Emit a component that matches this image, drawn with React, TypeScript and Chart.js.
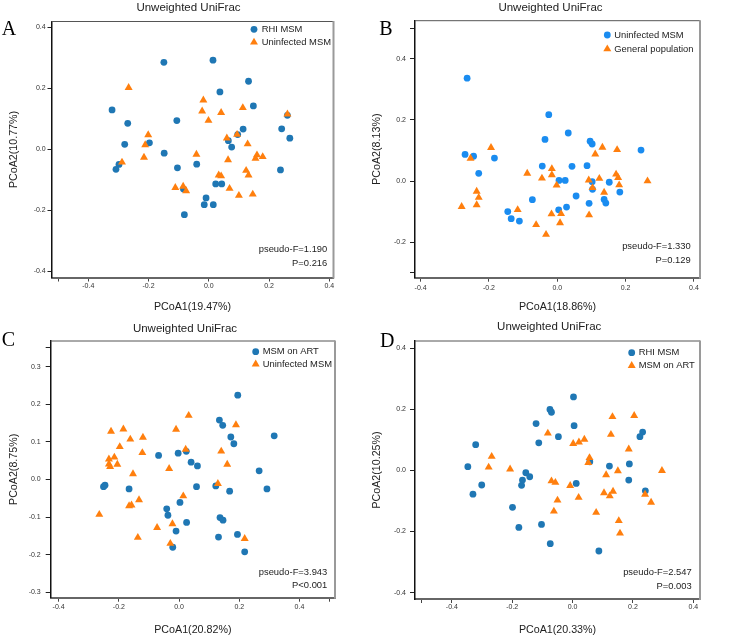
import React, { useEffect, useRef } from 'react';
import { Chart, registerables } from 'chart.js';
Chart.register(...registerables);

type Pt = [number, number];

// ---------- Panel A ----------
const aRhiMsm: Pt[] = [[-0.149,0.285],[0.014,0.292],[0.132,0.223],[0.037,0.188],[0.148,0.142],[-0.321,0.129],[-0.106,0.094],[-0.269,0.085],[0.242,0.067],[0.261,0.111],[0.114,0.066],[0.096,0.048],[0.269,0.036],[-0.279,0.016],[-0.197,0.021],[0.065,0.028],[0.076,0.007],[-0.148,-0.013],[-0.298,-0.050],[-0.308,-0.066],[-0.104,-0.061],[-0.040,-0.049],[0.023,-0.114],[0.043,-0.114],[0.238,-0.068],[-0.009,-0.160],[-0.015,-0.182],[0.015,-0.182],[-0.081,-0.215],[-0.084,-0.131]];
const aUninfectedMsm: Pt[] = [[-0.266,0.202],[-0.018,0.161],[-0.022,0.125],[0.041,0.120],[0.113,0.136],[-0.001,0.094],[0.261,0.115],[-0.201,0.047],[-0.211,0.014],[0.060,0.036],[0.094,0.048],[0.129,0.017],[-0.215,-0.027],[-0.288,-0.043],[-0.041,-0.017],[0.064,-0.035],[0.160,-0.019],[0.179,-0.025],[0.155,-0.030],[0.033,-0.085],[0.041,-0.088],[0.124,-0.070],[0.132,-0.085],[-0.111,-0.126],[-0.085,-0.122],[-0.075,-0.137],[0.069,-0.129],[0.100,-0.152],[0.146,-0.148]];
const aXTicks = [-0.5, -0.4, -0.2, 0, 0.2, 0.4];
const aYTicks = [-0.4, -0.2, 0, 0.2, 0.4];
const aStats = ['pseudo-F=1.190', 'P=0.216'];

// ---------- Panel B ----------
const bUninfectedMsm: Pt[] = [[-0.264,0.336],[-0.025,0.217],[0.032,0.157],[-0.036,0.136],[0.096,0.130],[0.102,0.121],[0.245,0.101],[-0.270,0.087],[-0.245,0.081],[-0.184,0.075],[-0.230,0.025],[-0.044,0.049],[0.043,0.048],[0.087,0.050],[0.005,0.002],[0.023,0.002],[0.102,-0.002],[0.152,-0.004],[0.103,-0.027],[0.183,-0.036],[0.055,-0.049],[-0.073,-0.061],[0.093,-0.073],[0.137,-0.060],[0.142,-0.072],[0.027,-0.085],[0.004,-0.094],[-0.145,-0.100],[-0.135,-0.123],[-0.111,-0.131]];
const bGeneralPopulation: Pt[] = [[-0.194,0.109],[0.132,0.110],[0.175,0.102],[0.111,0.088],[-0.254,0.074],[-0.088,0.025],[-0.016,0.040],[-0.016,0.020],[-0.045,0.009],[0.172,0.022],[0.178,0.011],[0.123,0.008],[0.092,0.003],[0.181,-0.013],[0.264,0.000],[-0.002,-0.014],[0.103,-0.022],[0.137,-0.037],[-0.236,-0.034],[-0.230,-0.054],[-0.236,-0.078],[-0.280,-0.084],[-0.116,-0.094],[-0.017,-0.108],[0.011,-0.107],[0.008,-0.137],[-0.062,-0.143],[-0.033,-0.175],[0.093,-0.111]];
const bXTicks = [-0.4, -0.2, 0, 0.2, 0.4];
const bYTicks = [-0.3, -0.2, 0, 0.2, 0.4, 0.5];
const bStats = ['pseudo-F=1.330', 'P=0.129'];

// ---------- Panel C ----------
const cMsmOnArt: Pt[] = [[0.195,0.224],[0.134,0.158],[0.145,0.144],[0.316,0.116],[0.172,0.113],[0.182,0.095],[-0.068,0.064],[-0.003,0.070],[0.024,0.075],[0.040,0.046],[0.061,0.036],[0.266,0.023],[-0.251,-0.019],[-0.246,-0.015],[-0.166,-0.025],[0.058,-0.019],[0.122,-0.017],[0.168,-0.031],[0.292,-0.025],[0.003,-0.061],[-0.041,-0.078],[-0.037,-0.095],[0.136,-0.101],[0.146,-0.108],[0.025,-0.114],[-0.010,-0.137],[0.194,-0.146],[0.131,-0.153],[-0.021,-0.180],[0.218,-0.192]];
const cUninfectedMsm: Pt[] = [[0.032,0.170],[-0.185,0.134],[-0.010,0.133],[-0.226,0.128],[0.189,0.145],[-0.162,0.107],[-0.120,0.112],[-0.197,0.087],[0.022,0.080],[-0.122,0.071],[0.140,0.075],[-0.215,0.059],[-0.233,0.054],[-0.033,0.029],[0.160,0.040],[-0.233,0.041],[-0.205,0.040],[-0.229,0.034],[-0.153,0.015],[0.129,-0.011],[0.014,-0.044],[-0.133,-0.054],[-0.158,-0.068],[-0.166,-0.070],[-0.265,-0.093],[-0.022,-0.118],[-0.073,-0.128],[-0.137,-0.154],[-0.029,-0.170],[0.218,-0.157]];
const cXTicks = [-0.4, -0.2, 0, 0.2, 0.4, 0.5];
const cYTicks = [-0.3, -0.2, -0.1, 0, 0.1, 0.2, 0.3, 0.35];
const cStats = ['pseudo-F=3.943', 'P<0.001'];

// ---------- Panel D ----------
const dRhiMsm: Pt[] = [[0.003,0.240],[-0.075,0.199],[-0.070,0.190],[-0.121,0.153],[0.005,0.146],[-0.047,0.110],[-0.112,0.090],[-0.321,0.084],[0.232,0.125],[0.223,0.110],[0.122,0.014],[0.188,0.021],[-0.347,0.012],[0.057,0.028],[-0.155,-0.008],[-0.142,-0.021],[-0.166,-0.032],[-0.169,-0.049],[-0.301,-0.048],[-0.330,-0.078],[0.012,-0.043],[0.186,-0.032],[0.241,-0.067],[-0.199,-0.121],[-0.178,-0.187],[-0.103,-0.177],[-0.074,-0.240],[0.087,-0.264]];
const dMsmOnArt: Pt[] = [[0.132,0.175],[0.204,0.179],[-0.082,0.121],[0.127,0.117],[0.002,0.087],[0.021,0.092],[0.039,0.101],[0.186,0.069],[-0.268,0.045],[0.056,0.041],[0.052,0.025],[-0.278,0.010],[-0.207,0.004],[0.296,-0.001],[0.150,-0.002],[-0.070,-0.035],[-0.057,-0.040],[-0.008,-0.050],[0.111,-0.015],[0.104,-0.074],[0.134,-0.069],[0.123,-0.084],[0.020,-0.089],[-0.050,-0.098],[-0.062,-0.134],[0.078,-0.138],[0.240,-0.079],[0.260,-0.105],[0.153,-0.165],[0.157,-0.206]];
const dXTicks = [-0.5, -0.4, -0.2, 0, 0.2, 0.4];
const dYTicks = [-0.4, -0.2, 0, 0.2, 0.4];
const dStats = ['pseudo-F=2.547', 'P=0.003'];

const SANS = "'Liberation Sans', Arial, Helvetica, sans-serif";
const SERIF = "'Liberation Serif', 'Times New Roman', serif";
const BLUE = '#1f77b4';
const BLUE_B = '#1a8cf0';
const ORANGE = '#ff7f0e';
const TITLE_SIZE = 11.5;
const AXIS_TITLE_SIZE = 10.7;
const TICK_SIZE = 7;
const LEGEND_SIZE = 9.4;

interface Series { label: string; data: Pt[]; color: string; style: 'circle' | 'triangle'; }
interface PanelCfg {
  letter: string; title: string; xTitle: string; yTitle: string;
  series: Series[]; xTicks: number[]; yTicks: number[]; xBlank: number[]; yBlank: number[];
  xMin: number; xMax: number; yMin: number; yMax: number; stats: string[];
  cx: number; cy: number; W: number; H: number; L: number; R: number; T: number; B: number;
  titleCx: number; titleCy: number; yTitleCx: number; xTitleCy: number;
  xTickPad: number; yTickLen: number; yTickPad: number;
  legX: number; legY: number; legGap: number; legTextX: number;
  statX: number; statY1: number; statY2: number; letterX: number; letterY: number;
}

const panels: PanelCfg[] = [
  {
    letter: 'A', title: 'Unweighted UniFrac', xTitle: 'PCoA1(19.47%)', yTitle: 'PCoA2(10.77%)',
    series: [
      { label: 'RHI MSM', data: aRhiMsm, color: BLUE, style: 'circle' },
      { label: 'Uninfected MSM', data: aUninfectedMsm, color: ORANGE, style: 'triangle' },
    ],
    xTicks: aXTicks, yTicks: aYTicks, xBlank: [-0.5], yBlank: [],
    xMin: -0.522, xMax: 0.414, yMin: -0.421, yMax: 0.419, stats: aStats,
    cx: 0, cy: 0, W: 380, H: 318, L: 51.5, R: 333.5, T: 21.5, B: 277.5,
    titleCx: 188.5, titleCy: 8.3, yTitleCx: 14.5, xTitleCy: 307,
    xTickPad: 0, yTickLen: 4, yTickPad: 1.8,
    legX: 254, legY: 29.3, legGap: 13, legTextX: 261.7,
    statX: 327.3, statY1: 249, statY2: 263.3, letterX: 1.7, letterY: 35,
  },
  {
    letter: 'B', title: 'Unweighted UniFrac', xTitle: 'PCoA1(18.86%)', yTitle: 'PCoA2(8.13%)',
    series: [
      { label: 'Uninfected MSM', data: bUninfectedMsm, color: BLUE_B, style: 'circle' },
      { label: 'General population', data: bGeneralPopulation, color: ORANGE, style: 'triangle' },
    ],
    xTicks: bXTicks, yTicks: bYTicks, xBlank: [], yBlank: [0.5, -0.3],
    xMin: -0.4165, xMax: 0.4176, yMin: -0.316, yMax: 0.524, stats: bStats,
    cx: 370, cy: 0, W: 374, H: 318, L: 415, R: 700, T: 20.7, B: 277.7,
    titleCx: 550.5, titleCy: 8.3, yTitleCx: 377.5, xTitleCy: 307,
    xTickPad: 1.8, yTickLen: 5, yTickPad: 4,
    legX: 607.3, legY: 35, legGap: 14, legTextX: 614.3,
    statX: 690.7, statY1: 246, statY2: 260, letterX: 379.3, letterY: 35,
  },
  {
    letter: 'C', title: 'Unweighted UniFrac', xTitle: 'PCoA1(20.82%)', yTitle: 'PCoA2(8.75%)',
    series: [
      { label: 'MSM on ART', data: cMsmOnArt, color: BLUE, style: 'circle' },
      { label: 'Uninfected MSM', data: cUninfectedMsm, color: ORANGE, style: 'triangle' },
    ],
    xTicks: cXTicks, yTicks: cYTicks, xBlank: [0.5], yBlank: [0.35],
    xMin: -0.4264, xMax: 0.518, yMin: -0.314, yMax: 0.368, stats: cStats,
    cx: 0, cy: 310, W: 374, H: 327, L: 50.7, R: 335, T: 341, B: 597.7,
    titleCx: 185, titleCy: 329.3, yTitleCx: 14, xTitleCy: 630,
    xTickPad: 0.8, yTickLen: 5, yTickPad: 5,
    legX: 255.7, legY: 351.7, legGap: 12.5, legTextX: 262.7,
    statX: 327.3, statY1: 572.7, statY2: 585, letterX: 1.7, letterY: 346,
  },
  {
    letter: 'D', title: 'Unweighted UniFrac', xTitle: 'PCoA1(20.33%)', yTitle: 'PCoA2(10.25%)',
    series: [
      { label: 'RHI MSM', data: dRhiMsm, color: BLUE, style: 'circle' },
      { label: 'MSM on ART', data: dMsmOnArt, color: ORANGE, style: 'triangle' },
    ],
    xTicks: dXTicks, yTicks: dYTicks, xBlank: [-0.5], yBlank: [],
    xMin: -0.522, xMax: 0.422, yMin: -0.421, yMax: 0.423, stats: dStats,
    cx: 370, cy: 310, W: 374, H: 327, L: 415, R: 700, T: 341, B: 599,
    titleCx: 549.2, titleCy: 326.7, yTitleCx: 377.5, xTitleCy: 630,
    xTickPad: 0, yTickLen: 5, yTickPad: 4,
    legX: 631.7, legY: 352.7, legGap: 13, legTextX: 638.7,
    statX: 691.7, statY1: 572.7, statY2: 586.7, letterX: 380, letterY: 346.7,
  },
];

function drawMarker(ctx: CanvasRenderingContext2D, style: string, x: number, y: number, color: string) {
  ctx.fillStyle = color;
  ctx.beginPath();
  if (style === 'circle') {
    ctx.arc(x, y, 3.4, 0, Math.PI * 2);
  } else {
    const r = 4.6;
    let a = 0;
    ctx.moveTo(x + Math.sin(a) * r, y - Math.cos(a) * r);
    a += (2 * Math.PI) / 3;
    ctx.lineTo(x + Math.sin(a) * r, y - Math.cos(a) * r);
    a += (2 * Math.PI) / 3;
    ctx.lineTo(x + Math.sin(a) * r, y - Math.cos(a) * r);
    ctx.closePath();
  }
  ctx.fill();
}

function fmt(v: number, blanks: number[]) {
  if (blanks.some((b) => Math.abs(b - v) < 1e-9)) return '';
  return (Math.abs(v) < 1e-9 ? 0 : v).toFixed(1);
}

function Panel({ cfg }: { cfg: PanelCfg }) {
  const ref = useRef<HTMLCanvasElement>(null);
  useEffect(() => {
    const c = cfg;
    const canvas = ref.current;
    if (!canvas) return;
    // title box spans [cx, cx + 2*(titleCx - cx)] ; right dummy axis fills the gap to R
    const titleSpan = 2 * (c.titleCx - c.cx);
    const pr = c.W - titleSpan;
    const wRight = titleSpan - (c.R - c.cx);
    const wy = c.L - c.cx;
    const hx = c.cy + c.H - c.B;
    const tLh = TITLE_SIZE * 1.2;
    const tPadTop = c.titleCy - c.cy - tLh / 2;
    const tPadBottom = c.T - c.cy - tPadTop - tLh;
    const aLh = AXIS_TITLE_SIZE * 1.2;
    const yTitlePad = c.yTitleCx - c.cx - aLh / 2;
    const xTitlePad = c.cy + c.H - aLh / 2 - c.xTitleCy;

    const decor = {
      id: 'decor' + c.letter,
      beforeDatasetsDraw(chart: any) {
        const { ctx, chartArea } = chart;
        const { left, right, top, bottom } = chartArea;
        ctx.save();
        ctx.strokeStyle = '#555';
        ctx.lineWidth = 1;
        ctx.beginPath();
        ctx.moveTo(left, top);
        ctx.lineTo(right, top);
        ctx.stroke();
        ctx.strokeStyle = '#9a9a9a';
        ctx.lineWidth = 2;
        ctx.beginPath();
        ctx.moveTo(right, top - 0.5);
        ctx.lineTo(right, bottom + 1);
        ctx.stroke();
        ctx.restore();
      },
      afterDraw(chart: any) {
        const ctx: CanvasRenderingContext2D = chart.ctx;
        ctx.save();
        ctx.font = `${LEGEND_SIZE}px ${SANS}`;
        ctx.textBaseline = 'middle';
        ctx.textAlign = 'left';
        c.series.forEach((s, i) => {
          const y = c.legY + i * c.legGap - c.cy;
          drawMarker(ctx, s.style, c.legX - c.cx, y, s.color);
          ctx.fillStyle = '#222';
          ctx.fillText(s.label, c.legTextX - c.cx, y);
        });
        ctx.textAlign = 'right';
        ctx.fillStyle = '#222';
        ctx.fillText(c.stats[0], c.statX - c.cx, c.statY1 - c.cy);
        ctx.fillText(c.stats[1], c.statX - c.cx, c.statY2 - c.cy);
        ctx.textAlign = 'left';
        ctx.textBaseline = 'alphabetic';
        ctx.font = `20px ${SERIF}`;
        ctx.fillStyle = '#000';
        ctx.fillText(c.letter, c.letterX - c.cx, c.letterY - c.cy);
        ctx.restore();
      },
    };

    const zeroPad = (s: any) => {
      s.paddingLeft = 0; s.paddingRight = 0; s.paddingTop = 0; s.paddingBottom = 0;
    };

    const chart = new Chart(canvas, {
      type: 'scatter',
      data: {
        datasets: c.series.map((s) => ({
          label: s.label,
          data: s.data.map(([x, y]) => ({ x, y })),
          pointStyle: s.style,
          pointRadius: s.style === 'circle' ? 3.4 : 4.6,
          backgroundColor: s.color,
          borderColor: s.color,
          borderWidth: 0,
          order: s.style === 'triangle' ? 0 : 1,
        })),
      },
      options: {
        responsive: false,
        animation: false,
        events: [],
        layout: { padding: { left: 0, right: pr, top: 0, bottom: 0 } },
        plugins: {
          legend: { display: false },
          tooltip: { enabled: false },
          title: {
            display: true,
            text: c.title,
            color: '#222',
            font: { family: SANS, size: TITLE_SIZE, weight: 'normal' },
            padding: { top: tPadTop, bottom: tPadBottom },
          },
        },
        scales: {
          x: {
            type: 'linear',
            position: 'bottom',
            min: c.xMin,
            max: c.xMax,
            afterBuildTicks: (s: any) => { s.ticks = c.xTicks.map((v) => ({ value: v })); },
            afterFit: (s: any) => { s.height = hx; zeroPad(s); },
            ticks: {
              callback: (v: any) => fmt(Number(v), c.xBlank),
              font: { family: SANS, size: TICK_SIZE },
              color: '#333',
              padding: c.xTickPad,
              autoSkip: false,
              maxRotation: 0,
              minRotation: 0,
            },
            grid: { display: true, drawOnChartArea: false, drawTicks: true, tickLength: 4, color: '#444', lineWidth: 1 },
            border: { display: true, color: '#666', width: 2 },
            title: {
              display: true,
              text: c.xTitle,
              color: '#222',
              font: { family: SANS, size: AXIS_TITLE_SIZE },
              padding: { top: 0, bottom: xTitlePad },
            },
          },
          y: {
            type: 'linear',
            position: 'left',
            min: c.yMin,
            max: c.yMax,
            afterBuildTicks: (s: any) => { s.ticks = c.yTicks.map((v) => ({ value: v })); },
            afterFit: (s: any) => { s.width = wy; zeroPad(s); },
            ticks: {
              callback: (v: any) => fmt(Number(v), c.yBlank),
              font: { family: SANS, size: TICK_SIZE },
              color: '#333',
              padding: c.yTickPad,
              autoSkip: false,
            },
            grid: { display: true, drawOnChartArea: false, drawTicks: true, tickLength: c.yTickLen, color: '#222', lineWidth: 1 },
            border: { display: true, color: '#111', width: 1.5 },
            title: {
              display: true,
              text: c.yTitle,
              color: '#222',
              font: { family: SANS, size: AXIS_TITLE_SIZE },
              padding: { top: yTitlePad, bottom: 0 },
            },
          },
          ySpacer: {
            type: 'linear',
            position: 'right',
            display: true,
            min: c.yMin,
            max: c.yMax,
            afterFit: (s: any) => { s.width = wRight; zeroPad(s); },
            ticks: { display: false },
            grid: { display: false },
            border: { display: false },
            title: { display: false },
          },
        },
      },
      plugins: [decor],
    } as any);
    return () => chart.destroy();
  }, [cfg]);
  return (
    <canvas
      ref={ref}
      width={cfg.W}
      height={cfg.H}
      style={{ position: 'absolute', left: cfg.cx, top: cfg.cy, width: cfg.W, height: cfg.H }}
    />
  );
}

export default function App() {
  return (
    <div style={{ position: 'fixed', left: 0, top: 0, width: 744, height: 637, background: '#fff', overflow: 'hidden' }}>
      {panels.map((p) => (
        <Panel key={p.letter} cfg={p} />
      ))}
    </div>
  );
}
